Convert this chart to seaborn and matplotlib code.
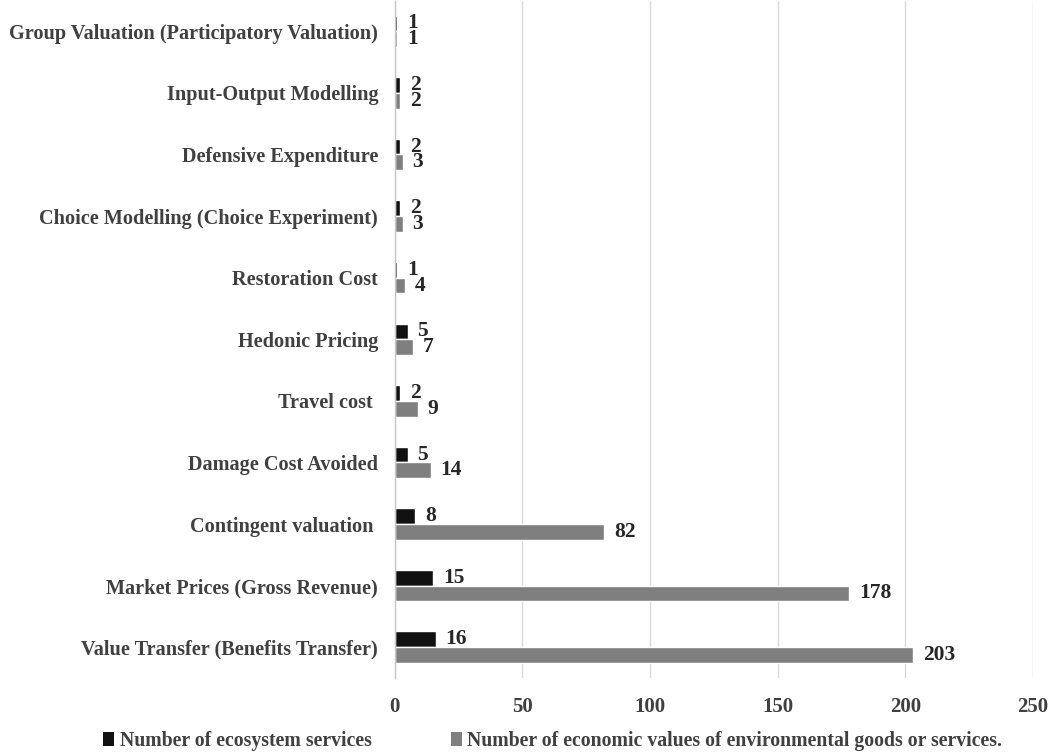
import matplotlib
matplotlib.use("Agg")
import matplotlib.pyplot as plt
import seaborn as sns
import pandas as pd
from matplotlib.patches import Patch

methods = [
    "Group Valuation (Participatory Valuation)",
    "Input-Output Modelling",
    "Defensive Expenditure",
    "Choice Modelling (Choice Experiment)",
    "Restoration Cost",
    "Hedonic Pricing",
    "Travel cost ",
    "Damage Cost Avoided",
    "Contingent valuation ",
    "Market Prices (Gross Revenue)",
    "Value Transfer (Benefits Transfer)",
]
ecosystem_services = [1, 2, 2, 2, 1, 5, 2, 5, 8, 15, 16]
economic_values = [1, 2, 3, 3, 4, 7, 9, 14, 82, 178, 203]

series_names = [
    "Number of ecosystem services",
    "Number of economic values of environmental goods or services.",
]
series_colors = ["#111111", "#7f7f7f"]

df = pd.DataFrame({
    "method": methods * 2,
    "count": ecosystem_services + economic_values,
    "series": [series_names[0]] * len(methods) + [series_names[1]] * len(methods),
})

sns.set_theme(style="white")
plt.rcParams["font.family"] = ["Liberation Serif", "DejaVu Serif"]
plt.rcParams["font.weight"] = "bold"

text_color = "#404040"

fig = plt.figure(figsize=(10.53, 7.54), dpi=100)
ax = fig.add_axes([0.375, 0.1008, 0.606, 0.8985])

sns.barplot(
    data=df, y="method", x="count", hue="series", order=methods,
    hue_order=series_names, palette=series_colors, orient="h",
    width=0.51, ax=ax, legend=False, saturation=1,
)

for container in ax.containers:
    ax.bar_label(container, padding=7, fontsize=15.5, fontweight="bold",
                 color="#262626")

ax.set_xlim(0, 250)
ax.set_xticks([0, 50, 100, 150, 200, 250])
ax.set_ylim(len(methods) - 0.5, -0.5)
ax.xaxis.grid(True, color="#d9d9d9", linewidth=1)
ax.set_axisbelow(True)
for side in ["top", "right", "bottom"]:
    ax.spines[side].set_visible(False)
ax.spines["left"].set_color("#c8c8c8")
ax.spines["left"].set_linewidth(1)

ax.set_xlabel("")
ax.set_ylabel("")
ax.tick_params(axis="both", length=0)
ax.tick_params(axis="x", pad=14, labelsize=15, labelcolor=text_color)
ax.tick_params(axis="y", pad=12, labelsize=14.6, labelcolor=text_color)
for lbl in ax.get_xticklabels() + ax.get_yticklabels():
    lbl.set_fontweight("bold")

handles = [Patch(facecolor=c, edgecolor="none") for c in series_colors]
fig.legend(
    handles, series_names, loc="center", bbox_to_anchor=(0.525, 13 / 754),
    ncol=2, frameon=False, handlelength=0.55, handleheight=0.75,
    handletextpad=0.3, columnspacing=4.0, labelcolor=text_color,
    prop={"weight": "bold", "size": 14.2},
)

fig.savefig("out.png", dpi=100)
